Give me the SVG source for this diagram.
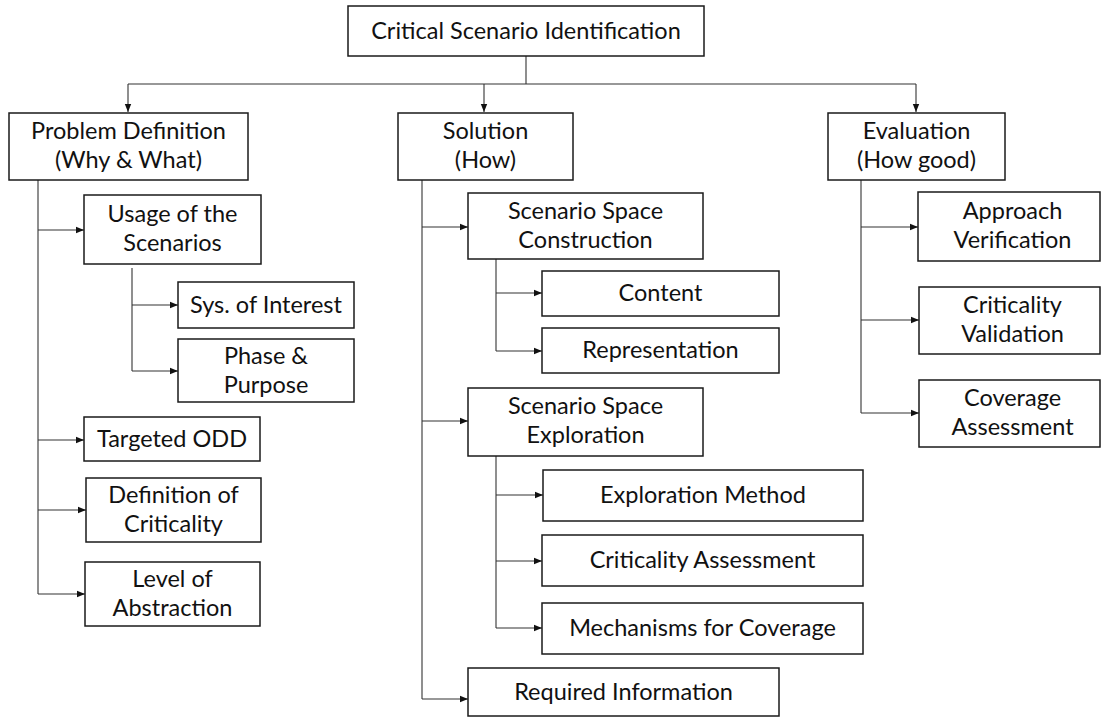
<svg xmlns="http://www.w3.org/2000/svg" width="1101" height="717" viewBox="0 0 1101 717">
<style>
.box{fill:#fff;stroke:#1a1a1a;stroke-width:1.5}
.t{font-family:Lato,"Liberation Sans",sans-serif;font-size:23.5px;fill:#111;text-anchor:middle}
.c{fill:none;stroke:#333;stroke-width:1.1}
</style>
<defs>
<marker id="ah" viewBox="0 0 10 10" refX="10" refY="5" markerWidth="8" markerHeight="8" markerUnits="userSpaceOnUse" orient="auto">
<path d="M0,1 L10,5 L0,9 Z" fill="#111"/>
</marker>
</defs>
<rect width="1101" height="717" fill="#fff"/>
<g id="connectors">
<path class="c" d="M526,56 V84 M128,84 H916"/>
<path class="c" d="M128,84 V112" marker-end="url(#ah)"/>
<path class="c" d="M484,84 V112" marker-end="url(#ah)"/>
<path class="c" d="M916,84 V112" marker-end="url(#ah)"/>
<path class="c" d="M38,180 V594"/>
<path class="c" d="M38,230 H84" marker-end="url(#ah)"/>
<path class="c" d="M38,440 H84" marker-end="url(#ah)"/>
<path class="c" d="M38,510 H86" marker-end="url(#ah)"/>
<path class="c" d="M38,594 H85" marker-end="url(#ah)"/>
<path class="c" d="M132,268 V371"/>
<path class="c" d="M132,305 H178" marker-end="url(#ah)"/>
<path class="c" d="M132,371 H178" marker-end="url(#ah)"/>
<path class="c" d="M422,180 V699"/>
<path class="c" d="M422,227 H468" marker-end="url(#ah)"/>
<path class="c" d="M422,421 H468" marker-end="url(#ah)"/>
<path class="c" d="M422,699 H468" marker-end="url(#ah)"/>
<path class="c" d="M496,259 V351"/>
<path class="c" d="M496,293 H542" marker-end="url(#ah)"/>
<path class="c" d="M496,351 H542" marker-end="url(#ah)"/>
<path class="c" d="M496,456 V628"/>
<path class="c" d="M496,495 H543" marker-end="url(#ah)"/>
<path class="c" d="M496,561 H542" marker-end="url(#ah)"/>
<path class="c" d="M496,628 H542" marker-end="url(#ah)"/>
<path class="c" d="M861,180 V413"/>
<path class="c" d="M861,227 H918" marker-end="url(#ah)"/>
<path class="c" d="M861,320 H919" marker-end="url(#ah)"/>
<path class="c" d="M861,413 H919" marker-end="url(#ah)"/>
</g>
<g id="root"><rect class="box" x="348" y="6" width="356" height="50"/><text class="t" x="526" y="39">Critical Scenario Identification</text></g>
<g id="problem"><rect class="box" x="9" y="113" width="239" height="67"/><text class="t" x="128.5" y="139">Problem Definition</text><text class="t" x="128.5" y="168">(Why &amp; What)</text></g>
<g id="solution"><rect class="box" x="398" y="113" width="175" height="67"/><text class="t" x="485.5" y="139">Solution</text><text class="t" x="485.5" y="168">(How)</text></g>
<g id="evaluation"><rect class="box" x="828" y="113" width="177" height="67"/><text class="t" x="916.5" y="139">Evaluation</text><text class="t" x="916.5" y="168">(How good)</text></g>
<g id="usage"><rect class="box" x="84" y="195" width="177" height="69"/><text class="t" x="172.5" y="222">Usage of the</text><text class="t" x="172.5" y="251">Scenarios</text></g>
<g id="sys"><rect class="box" x="178" y="282" width="176" height="46"/><text class="t" x="266" y="313">Sys. of Interest</text></g>
<g id="phase"><rect class="box" x="178" y="339" width="176" height="63"/><text class="t" x="266" y="364">Phase &amp;</text><text class="t" x="266" y="393">Purpose</text></g>
<g id="odd"><rect class="box" x="84" y="417" width="176" height="44"/><text class="t" x="172" y="447">Targeted ODD</text></g>
<g id="defcrit"><rect class="box" x="86" y="478" width="175" height="64"/><text class="t" x="173.5" y="503">Definition of</text><text class="t" x="173.5" y="532">Criticality</text></g>
<g id="level"><rect class="box" x="85" y="562" width="175" height="64"/><text class="t" x="172.5" y="587">Level of</text><text class="t" x="172.5" y="616">Abstraction</text></g>
<g id="ssc"><rect class="box" x="468" y="193" width="235" height="66"/><text class="t" x="585.5" y="219">Scenario Space</text><text class="t" x="585.5" y="248">Construction</text></g>
<g id="content"><rect class="box" x="542" y="271" width="237" height="45"/><text class="t" x="660.5" y="301">Content</text></g>
<g id="repr"><rect class="box" x="542" y="328" width="237" height="45"/><text class="t" x="660.5" y="358">Representation</text></g>
<g id="sse"><rect class="box" x="468" y="388" width="235" height="68"/><text class="t" x="585.5" y="414">Scenario Space</text><text class="t" x="585.5" y="443">Exploration</text></g>
<g id="expl"><rect class="box" x="543" y="470" width="320" height="51"/><text class="t" x="703" y="503">Exploration Method</text></g>
<g id="critass"><rect class="box" x="542" y="535" width="321" height="51"/><text class="t" x="702.5" y="568">Criticality Assessment</text></g>
<g id="mech"><rect class="box" x="542" y="603" width="321" height="51"/><text class="t" x="702.5" y="636">Mechanisms for Coverage</text></g>
<g id="reqinfo"><rect class="box" x="468" y="668" width="311" height="48"/><text class="t" x="623.5" y="700">Required Information</text></g>
<g id="approach"><rect class="box" x="918" y="192" width="182" height="69"/><text class="t" x="1012.5" y="219">Approach</text><text class="t" x="1012.5" y="248">Verification</text></g>
<g id="critval"><rect class="box" x="919" y="287" width="181" height="67"/><text class="t" x="1012.5" y="313">Criticality</text><text class="t" x="1012.5" y="342">Validation</text></g>
<g id="covass"><rect class="box" x="919" y="380" width="181" height="67"/><text class="t" x="1012.5" y="406">Coverage</text><text class="t" x="1012.5" y="435">Assessment</text></g>
</svg>
